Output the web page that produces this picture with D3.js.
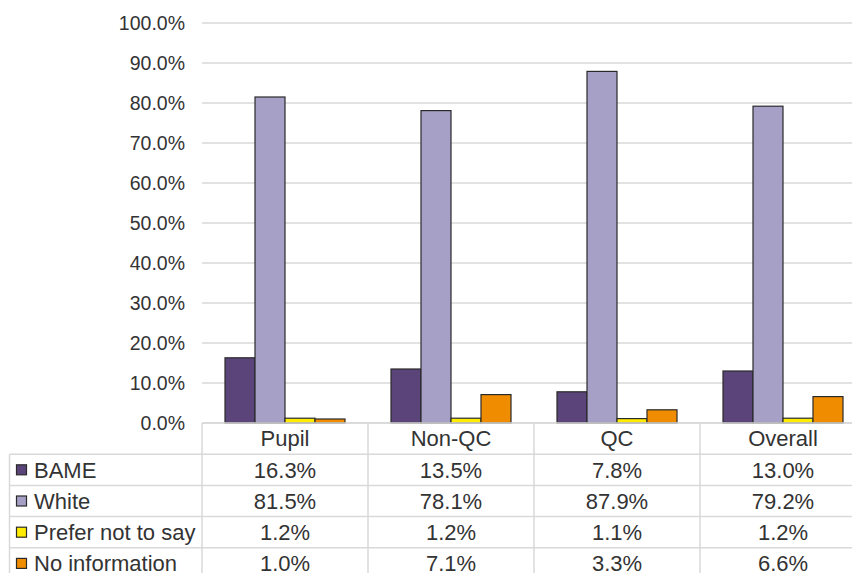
<!DOCTYPE html>
<html>
<head>
<meta charset="utf-8">
<script src="https://cdn.jsdelivr.net/npm/d3@7/dist/d3.min.js"></script>
<style>
  html, body { margin: 0; padding: 0; background: #fff; }
  svg { display: block; font-family: "Liberation Sans", Arial, sans-serif; }
</style>
</head>
<body>
<svg id="chart" width="852" height="573"></svg>
<script>
// Ethnicity breakdown by group
const categories = ["Pupil", "Non-QC", "QC", "Overall"];
const seriesNames = ["BAME", "White", "Prefer not to say", "No information"];
const bame = [16.3, 13.5, 7.8, 13.0];
const white = [81.5, 78.1, 87.9, 79.2];
const preferNot = [1.2, 1.2, 1.1, 1.2];
const noInfo = [1.0, 7.1, 3.3, 6.6];
const yTicks = [0, 10, 20, 30, 40, 50, 60, 70, 80, 90, 100];
const colors = ["#5b4479", "#a6a0c6", "#ffec00", "#f08c00"];

const seriesValues = [bame, white, preferNot, noInfo];

const svg = d3.select("#chart");
const W = 852;
const plotLeft = 202, colW = 166;
const plotTop = 23, plotBottom = 423;
const rowH = 31.2;
const tableLeft = 9.5;
const gridColor = "#d9d9d9";
const textColor = "#333";

const x0 = d3.scaleBand()
  .domain(categories)
  .range([plotLeft, plotLeft + colW * categories.length])
  .padding(0);

const x1 = d3.scaleBand()
  .domain(seriesNames)
  .range([0, colW])
  .paddingInner(0)
  .paddingOuter(23 / 30);

const y = d3.scaleLinear().domain([0, 100]).range([plotBottom, plotTop]);

// horizontal gridlines
svg.append("g")
  .selectAll("line")
  .data(yTicks)
  .join("line")
  .attr("x1", plotLeft).attr("x2", W)
  .attr("y1", d => y(d)).attr("y2", d => y(d))
  .attr("stroke", gridColor).attr("stroke-width", 1.5);

// y axis labels
const yAxis = d3.axisLeft(y)
  .tickValues(yTicks)
  .tickSize(0)
  .tickPadding(0)
  .tickFormat(d => d.toFixed(1) + "%");
const yg = svg.append("g")
  .attr("transform", `translate(185,0)`)
  .call(yAxis);
yg.select(".domain").remove();
yg.selectAll("text")
  .attr("fill", textColor)
  .style("font-size", "19.5px")
  .style("font-family", "'Liberation Sans', Arial, sans-serif");

// bars
const groups = svg.append("g")
  .selectAll("g")
  .data(categories)
  .join("g")
  .attr("transform", d => `translate(${x0(d)},0)`);

groups.selectAll("rect")
  .data((c, ci) => seriesNames.map((s, si) => ({ s, si, v: seriesValues[si][ci] })))
  .join("rect")
  .attr("x", d => x1(d.s))
  .attr("width", x1.bandwidth())
  .attr("y", d => y(d.v))
  .attr("height", d => y(0) - y(d.v))
  .attr("fill", d => colors[d.si])
  .attr("stroke", "#2a2a2a")
  .attr("stroke-width", 1.2);

// data table
const table = svg.append("g");
const nRows = seriesNames.length + 1;
const tableRight = plotLeft + colW * categories.length;

// header row borders
table.append("line")
  .attr("x1", plotLeft).attr("x2", W)
  .attr("y1", plotBottom).attr("y2", plotBottom)
  .attr("stroke", gridColor).attr("stroke-width", 1.5);

for (let r = 1; r <= nRows; r++) {
  const yy = plotBottom + r * rowH;
  table.append("line")
    .attr("x1", tableLeft).attr("x2", W)
    .attr("y1", yy).attr("y2", yy)
    .attr("stroke", gridColor).attr("stroke-width", 1.5);
}

// vertical borders
table.append("line")
  .attr("x1", tableLeft).attr("x2", tableLeft)
  .attr("y1", plotBottom + rowH).attr("y2", plotBottom + nRows * rowH)
  .attr("stroke", gridColor).attr("stroke-width", 1.5);

categories.forEach(c => {
  table.append("line")
    .attr("x1", x0(c)).attr("x2", x0(c))
    .attr("y1", plotBottom).attr("y2", plotBottom + nRows * rowH)
    .attr("stroke", gridColor).attr("stroke-width", 1.5);
});
table.append("line")
  .attr("x1", tableRight).attr("x2", tableRight)
  .attr("y1", plotBottom).attr("y2", plotBottom + nRows * rowH)
  .attr("stroke", gridColor).attr("stroke-width", 1.5);

// header labels
table.selectAll("text.hdr")
  .data(categories)
  .join("text")
  .attr("class", "hdr")
  .attr("x", d => x0(d) + colW / 2)
  .attr("y", plotBottom + rowH / 2)
  .attr("dy", "0.35em")
  .attr("text-anchor", "middle")
  .attr("fill", textColor)
  .style("font-size", "22px")
  .text(d => d);

// series rows
seriesNames.forEach((s, si) => {
  const cy = plotBottom + (si + 1) * rowH + rowH / 2;
  table.append("rect")
    .attr("x", 16.5).attr("y", cy - 5)
    .attr("width", 10).attr("height", 10)
    .attr("fill", colors[si])
    .attr("stroke", "#2a2a2a").attr("stroke-width", 1.2);
  table.append("text")
    .attr("x", 34)
    .attr("y", cy)
    .attr("dy", "0.35em")
    .attr("fill", textColor)
    .style("font-size", "22px")
    .text(s);
  categories.forEach((c, ci) => {
    table.append("text")
      .attr("x", x0(c) + colW / 2)
      .attr("y", cy)
      .attr("dy", "0.35em")
      .attr("text-anchor", "middle")
      .attr("fill", textColor)
      .style("font-size", "22px")
      .text(seriesValues[si][ci].toFixed(1) + "%");
  });
});
</script>
</body>
</html>
